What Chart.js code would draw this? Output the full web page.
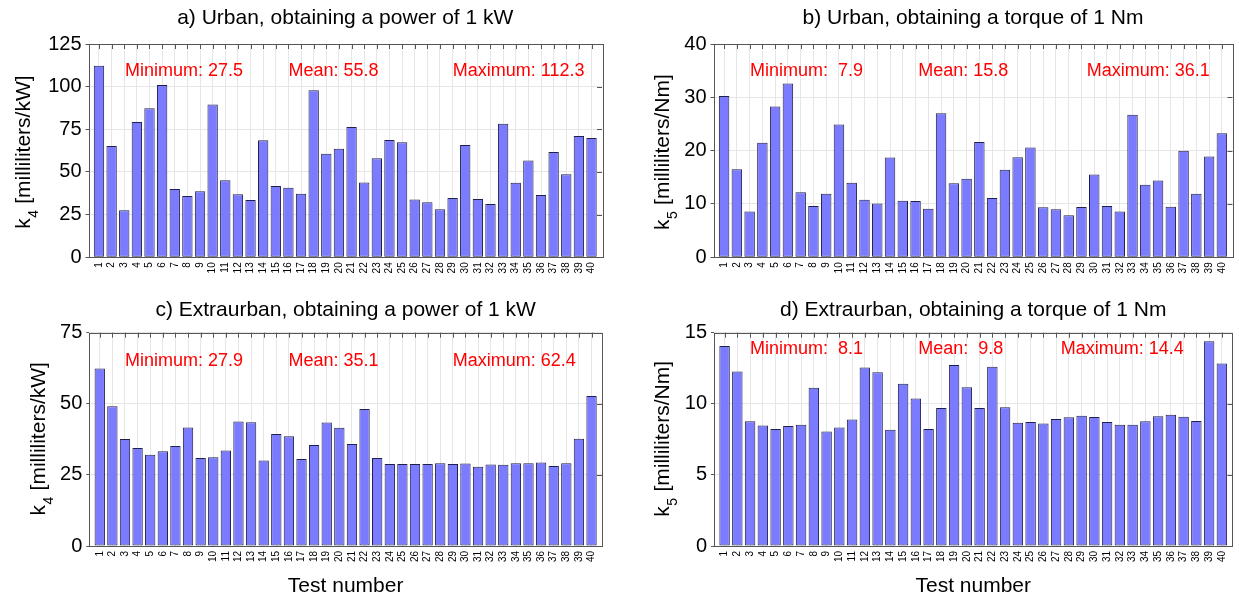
<!DOCTYPE html>
<html><head><meta charset="utf-8">
<script src="https://cdn.jsdelivr.net/npm/chart.js@4.4.1/dist/chart.umd.min.js"></script>
<style>
html,body{margin:0;padding:0;background:#fff;}
body{width:1239px;height:599px;position:relative;overflow:hidden;}
canvas{position:absolute;}
</style></head><body>
<canvas id="ca" width="620" height="290" style="left:0;top:0"></canvas>
<canvas id="cb" width="619" height="290" style="left:620px;top:0"></canvas>
<canvas id="cc" width="620" height="309" style="left:0;top:290px"></canvas>
<canvas id="cd" width="619" height="309" style="left:620px;top:290px"></canvas>
<script>
// ---- data ----
const testNumbers = [1,2,3,4,5,6,7,8,9,10,11,12,13,14,15,16,17,18,19,20,21,22,23,24,25,26,27,28,29,30,31,32,33,34,35,36,37,38,39,40];
const urbanPower = [112.3,65.2,27.5,79.3,87.4,101.0,40.0,35.9,38.7,89.6,45.1,36.9,33.6,68.6,41.8,40.8,37.3,97.9,60.7,63.6,76.4,43.9,58.0,68.7,67.4,33.8,32.2,28.1,34.8,65.8,34.2,31.2,78.3,43.7,56.8,36.5,61.7,48.6,71.1,69.9];
const urbanTorque = [30.25,16.5,8.6,21.5,28.3,32.6,12.2,9.6,11.9,24.9,14.0,10.8,10.1,18.7,10.6,10.55,9.1,27.0,13.9,14.75,21.6,11.1,16.4,18.75,20.6,9.4,9.0,7.9,9.45,15.55,9.6,8.6,26.75,13.6,14.4,9.5,20.0,11.9,18.9,23.25];
const extraPower = [62.4,49.1,37.6,34.5,32.1,33.3,35.2,41.7,30.9,31.2,33.6,43.8,43.5,30.1,39.4,38.6,30.6,35.5,43.4,41.6,35.9,48.2,30.9,28.8,28.8,28.8,28.8,29.1,28.8,29.0,27.9,28.7,28.6,29.1,29.1,29.4,28.1,29.1,37.7,52.75];
const extraTorque = [14.06,12.28,8.77,8.48,8.23,8.44,8.53,11.13,8.06,8.34,8.9,12.56,12.21,8.18,11.41,10.38,8.23,9.7,12.73,11.16,9.7,12.6,9.75,8.67,8.72,8.62,8.93,9.05,9.16,9.07,8.72,8.53,8.53,8.77,9.12,9.23,9.09,8.79,14.39,12.84];
const titles = ["a) Urban, obtaining a power of 1 kW","b) Urban, obtaining a torque of 1 Nm","c) Extraurban, obtaining a power of 1 kW","d) Extraurban, obtaining a torque of 1 Nm"];
const statsA = ["Minimum: 27.5","Mean: 55.8","Maximum: 112.3"];
const statsB = ["Minimum:  7.9","Mean: 15.8","Maximum: 36.1"];
const statsC = ["Minimum: 27.9","Mean: 35.1","Maximum: 62.4"];
const statsD = ["Minimum:  8.1","Mean:  9.8","Maximum: 14.4"];
const yTicksA = [0,25,50,75,100,125];
const yTicksB = [0,10,20,30,40];
const yTicksC = [0,25,50,75];
const yTicksD = [0,5,10,15];
const xTitle = "Test number";

const FONT = "'Liberation Sans', Arial, Helvetica, sans-serif";
Chart.defaults.font.family = FONT;
Chart.defaults.color = '#000';

const matlabPlugin = {
  id: 'matlab',
  afterDatasetsDraw(chart, args, o) {
    const {ctx, chartArea: a, scales: {x, y}} = chart;
    ctx.save();
    ctx.strokeStyle = '#555'; ctx.lineWidth = 1;
    ctx.beginPath();
    x.ticks.forEach(t => { const px = Math.round(x.getPixelForValue(t.value)) + 0.5; ctx.moveTo(px, a.top); ctx.lineTo(px, a.top + 5); });
    y.ticks.forEach(t => { const py = Math.round(y.getPixelForValue(t.value)) + 0.5; ctx.moveTo(a.right, py); ctx.lineTo(a.right - 5, py); });
    ctx.stroke();
    ctx.strokeRect(Math.round(a.left) + 0.5, Math.round(a.top) + 0.5, Math.round(a.right - a.left), Math.round(a.bottom - a.top));
    ctx.fillStyle = '#ff0000'; ctx.font = '18px ' + FONT; ctx.textBaseline = 'alphabetic'; ctx.textAlign = 'left';
    o.stats.forEach((s, i) => ctx.fillText(s, o.statX[i], o.statY));
    // y axis title with subscript
    ctx.translate(o.yTitleX, (a.top + a.bottom) / 2 + o.yTitleDy);
    ctx.rotate(-Math.PI / 2);
    ctx.fillStyle = '#000';
    const fMain = '21px ' + FONT, fSub = '14px ' + FONT;
    ctx.font = fMain; const wk = ctx.measureText('k').width; const wr = ctx.measureText(o.yRest).width;
    ctx.font = fSub; const ws = ctx.measureText(o.ySub).width;
    let u = -(wk + ws + wr) / 2;
    ctx.font = fMain; ctx.fillText('k', u, 0); u += wk;
    ctx.font = fSub; ctx.fillText(o.ySub, u + 0.5, 8); u += ws + 1;
    ctx.font = fMain; ctx.fillText(o.yRest, u, 0);
    ctx.restore();
  }
};

function makeChart(id, cfg) {
  new Chart(document.getElementById(id), {
    type: 'bar',
    data: {
      labels: testNumbers,
      datasets: [{
        data: cfg.values,
        backgroundColor: '#7b7bff',
        borderColor: '#20204a',
        borderWidth: 1,
        borderSkipped: false,
        barPercentage: 0.82,
        categoryPercentage: 1.0
      }]
    },
    options: {
      responsive: false,
      animation: false,
      layout: { padding: { left: 0, right: cfg.padR, top: 0, bottom: 0 } },
      plugins: {
        legend: { display: false },
        tooltip: { enabled: false },
        title: { display: true, text: cfg.title, fullSize: false, color: '#000',
                 font: { size: 21, weight: 'normal' }, padding: cfg.titlePad },
        matlab: { stats: cfg.stats, statX: cfg.statX, statY: cfg.statY,
                  yTitleX: cfg.yTitleX, yTitleDy: cfg.yTitleDy, ySub: cfg.ySub, yRest: cfg.yRest }
      },
      scales: {
        x: {
          type: 'linear', min: 0.17, max: 40.83, offset: false,
          afterBuildTicks: s => { s.ticks = testNumbers.map(v => ({ value: v })); },
          afterFit: s => { s.height = cfg.xH; },
          ticks: { autoSkip: false, minRotation: 90, maxRotation: 90, font: { size: 10 }, color: '#000', padding: 5,
                   callback: v => String(v) },
          grid: { color: '#e6e6e6', drawTicks: false, offset: false },
          border: { display: false },
          title: { display: cfg.showXTitle, text: xTitle, color: '#000', font: { size: 21 }, padding: { top: 0, bottom: 0 } }
        },
        y: {
          min: cfg.yTicks[0], max: cfg.yTicks[cfg.yTicks.length - 1],
          afterBuildTicks: s => { s.ticks = cfg.yTicks.map(v => ({ value: v })); },
          afterFit: s => { s.width = cfg.yW; },
          ticks: { font: { size: 20 }, color: '#000', padding: 4 },
          grid: { color: '#e6e6e6', tickLength: 3, tickColor: '#555' },
          border: { display: false }
        }
      }
    },
    plugins: [matlabPlugin]
  });
}

makeChart('ca', { values: urbanPower, title: titles[0], stats: statsA, statX: [125, 288.5, 452.7], statY: 75.8,
  yTicks: yTicksA, yW: 88.5, padR: 18, xH: 32.7, titlePad: { top: 5.4, bottom: 13.4 },
  yTitleX: 29.5, yTitleDy: 2, ySub: '4', yRest: ' [milliliters/kW]', showXTitle: false });
makeChart('cb', { values: urbanTorque, title: titles[1], stats: statsB, statX: [130, 298.3, 466.7], statY: 75.8,
  yTicks: yTicksB, yW: 93.5, padR: 1, xH: 32.7, titlePad: { top: 5.4, bottom: 13.4 },
  yTitleX: 49, yTitleDy: 2, ySub: '5', yRest: ' [milliliters/Nm]', showXTitle: false });
makeChart('cc', { values: extraPower, title: titles[2], stats: statsC, statX: [125, 288.5, 452.7], statY: 75.5,
  yTicks: yTicksC, yW: 89.3, padR: 18, xH: 53, titlePad: { top: 7.4, bottom: 10.1 },
  yTitleX: 44.5, yTitleDy: 0, ySub: '4', yRest: ' [milliliters/kW]', showXTitle: true });
makeChart('cd', { values: extraTorque, title: titles[3], stats: statsD, statX: [130, 298.3, 440.7], statY: 63.8,
  yTicks: yTicksD, yW: 94, padR: 1, xH: 53, titlePad: { top: 7.4, bottom: 10.1 },
  yTitleX: 49, yTitleDy: 0, ySub: '5', yRest: ' [milliliters/Nm]', showXTitle: true });
</script>
</body></html>
